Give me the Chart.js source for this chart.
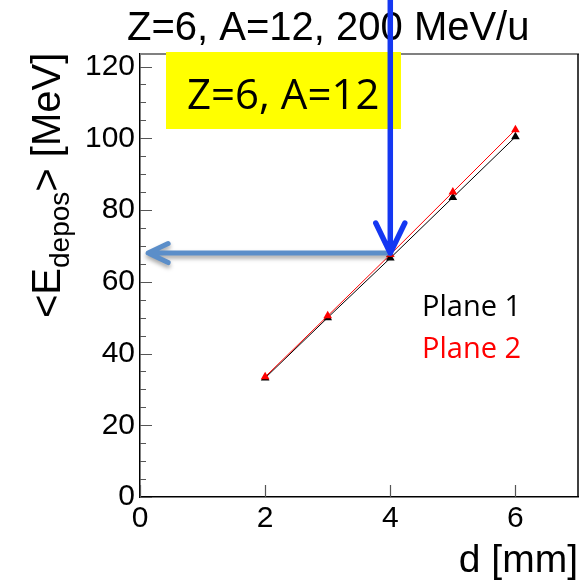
<!DOCTYPE html>
<html>
<head>
<meta charset="utf-8">
<script src="https://cdn.jsdelivr.net/npm/chart.js@4.4.0/dist/chart.umd.min.js"></script>
<style>
html, body { margin: 0; padding: 0; background: #fff; }
#wrap { width: 587px; height: 582px; }
</style>
</head>
<body>
<div id="wrap"><canvas id="chart-edep" width="587" height="582"></canvas></div>
<script>
// mean deposited energy vs. thickness, two planes
let thicknessMm = [2, 3, 4, 5, 6];
let edepPlane1 = [33.2, 50.0, 66.6, 83.5, 100.4];
let edepPlane2 = [33.5, 50.5, 67.6, 85.0, 102.4];
let seriesNames = ['Plane 1', 'Plane 2'];
let seriesColors = ['#000000', '#ff0000'];
let xTickValues = [0, 2, 4, 6];
let yTickValues = [0, 20, 40, 60, 80, 100, 120];
let yMinorStep = 5;
// read-out point marked by the two arrows
let readoutD = 4;
let readoutE = 68;
let arrowTipD = 0.13;

const tickFont = { family: 'Liberation Sans', size: 30 };

const decorations = {
    id: 'decorations',
    beforeDraw(chart) {
        const ctx = chart.ctx;
        ctx.save();
        ctx.fillStyle = '#fff';
        ctx.fillRect(0, 0, chart.width, chart.height);
        ctx.restore();
    },
    beforeDatasetsDraw(chart) {
        const { ctx, chartArea: a, scales: { x, y } } = chart;
        ctx.save();
        // ticks drawn inside the frame, ROOT style
        ctx.strokeStyle = '#555';
        ctx.lineWidth = 1.2;
        ctx.beginPath();
        for (let v = 0; v <= yTickValues[yTickValues.length - 1]; v += yMinorStep) {
            const py = Math.round(y.getPixelForValue(v)) + 0.5;
            const len = yTickValues.includes(v) ? 12 : 6;
            ctx.moveTo(a.left, py);
            ctx.lineTo(a.left + len, py);
        }
        xTickValues.forEach(v => {
            const px = Math.round(x.getPixelForValue(v)) + 0.5;
            ctx.moveTo(px, a.bottom);
            ctx.lineTo(px, a.bottom - 12);
        });
        ctx.stroke();
        // top and right frame
        ctx.strokeStyle = '#808080';
        ctx.lineWidth = 2;
        ctx.beginPath();
        ctx.moveTo(a.left, a.top);
        ctx.lineTo(a.right + 1, a.top);
        ctx.stroke();
        ctx.strokeStyle = '#000';
        ctx.lineWidth = 1.5;
        ctx.beginPath();
        ctx.moveTo(a.right, a.top);
        ctx.lineTo(a.right, a.bottom);
        ctx.stroke();
        ctx.restore();
    },
    afterDraw(chart) {
        const { ctx, scales: { x, y } } = chart;
        ctx.save();

        // title
        ctx.fillStyle = '#000';
        ctx.textBaseline = 'alphabetic';
        ctx.textAlign = 'left';
        ctx.font = '40px "Liberation Sans"';
        ctx.fillText('Z=6, A=12, 200 MeV/u', 127, 40);

        // x title
        ctx.textAlign = 'right';
        ctx.font = '39px "Liberation Sans"';
        ctx.fillText('d [mm]', 578, 572);

        // y title with subscript
        ctx.save();
        ctx.translate(60, 318);
        ctx.rotate(-Math.PI / 2);
        ctx.textAlign = 'left';
        let cx = 0;
        ctx.font = '40px "Liberation Sans"';
        ctx.fillText('<E', cx, 0);
        cx += ctx.measureText('<E').width;
        ctx.font = '28px "Liberation Sans"';
        ctx.fillText('depos', cx, 9);
        cx += ctx.measureText('depos').width;
        ctx.font = '40px "Liberation Sans"';
        ctx.fillText('> [MeV]', cx, 0);
        ctx.restore();

        // yellow label box
        ctx.fillStyle = '#ffff00';
        ctx.fillRect(166, 52, 235, 77);
        ctx.fillStyle = '#000';
        ctx.textAlign = 'left';
        ctx.font = '42px "Open Sans"';
        ctx.fillText('Z=6, A=12', 187, 109);

        // legend text
        ctx.font = '29px "Open Sans"';
        seriesNames.forEach((name, i) => {
            ctx.fillStyle = seriesColors[i];
            ctx.fillText(name, 422, 316 + i * 42);
        });

        const px = x.getPixelForValue(readoutD);
        const py = y.getPixelForValue(readoutE);

        // horizontal arrow to the y axis, with shadow
        ctx.save();
        ctx.shadowColor = 'rgba(0,0,0,0.35)';
        ctx.shadowOffsetY = 3;
        ctx.shadowBlur = 4;
        drawArrow(ctx, px, py, x.getPixelForValue(arrowTipD), py, 20, 9.5, 5, '#5b8ec9');
        ctx.restore();

        // vertical arrow from above
        drawArrow(ctx, px, -10, px, py, 30, 14.5, 5.5, '#1437f2');

        ctx.restore();
    }
};

function drawArrow(ctx, x0, y0, x1, y1, headLen, spread, width, color) {
    const dx = x0 - x1, dy = y0 - y1;
    const len = Math.hypot(dx, dy);
    const ux = dx / len, uy = dy / len;
    const nx = -uy, ny = ux;
    ctx.strokeStyle = color;
    ctx.lineWidth = width;
    ctx.lineCap = 'round';
    ctx.lineJoin = 'round';
    ctx.beginPath();
    ctx.moveTo(x0, y0);
    ctx.lineTo(x1, y1);
    ctx.moveTo(x1 + ux * headLen + nx * spread, y1 + uy * headLen + ny * spread);
    ctx.lineTo(x1, y1);
    ctx.lineTo(x1 + ux * headLen - nx * spread, y1 + uy * headLen - ny * spread);
    ctx.stroke();
}

function toPoints(xs, ys) {
    return xs.map((v, i) => ({ x: v, y: ys[i] }));
}

var ctxEdep = document.getElementById('chart-edep').getContext('2d');

let chartEdep = new Chart(ctxEdep, {
    type: 'scatter',
    data: {
        datasets: [
            {
                label: seriesNames[0],
                data: toPoints(thicknessMm, edepPlane1),
                showLine: true,
                borderColor: seriesColors[0],
                backgroundColor: seriesColors[0],
                borderWidth: 1,
                pointStyle: 'triangle',
                pointRadius: 5,
                pointBorderWidth: 0,
                order: 1
            },
            {
                label: seriesNames[1],
                data: toPoints(thicknessMm, edepPlane2),
                showLine: true,
                borderColor: seriesColors[1],
                backgroundColor: seriesColors[1],
                borderWidth: 1,
                pointStyle: 'triangle',
                pointRadius: 5,
                pointBorderWidth: 0,
                order: 0
            }
        ]
    },
    options: {
        responsive: false,
        animation: false,
        devicePixelRatio: 1,
        layout: { padding: { top: 54, right: 9, left: 0, bottom: 0 } },
        plugins: {
            legend: { display: false },
            title: { display: false },
            tooltip: { enabled: false }
        },
        scales: {
            x: {
                type: 'linear',
                min: 0,
                max: 7,
                afterBuildTicks: s => { s.ticks = xTickValues.map(v => ({ value: v })); },
                afterFit: s => { s.height = 85; },
                ticks: { font: tickFont, color: '#000', padding: 4, maxRotation: 0 },
                grid: { display: false, drawTicks: false },
                border: { display: true, color: '#000', width: 1.5 }
            },
            y: {
                type: 'linear',
                min: 0,
                max: 123.5,
                afterBuildTicks: s => { s.ticks = yTickValues.map(v => ({ value: v })); },
                afterFit: s => { s.width = 140; },
                ticks: { font: tickFont, color: '#000', padding: 5 },
                grid: { display: false, drawTicks: false },
                border: { display: true, color: '#000', width: 1.5 }
            }
        }
    },
    plugins: [decorations]
});
</script>
</body>
</html>
